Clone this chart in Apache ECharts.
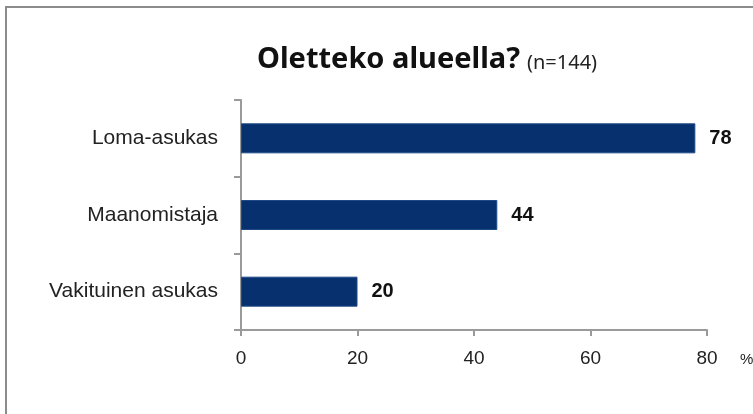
<!DOCTYPE html>
<html>
<head>
<meta charset="utf-8">
<script src="https://cdn.jsdelivr.net/npm/echarts@6/dist/echarts.min.js"></script>
<style>
  html, body { margin: 0; padding: 0; background: #fff; }
  #chart { width: 753px; height: 414px; }
</style>
</head>
<body>
<div id="chart"></div>
<script>
  // vastaukset, % (n=144)
  var categories = ['Vakituinen asukas', 'Maanomistaja', 'Loma-asukas'];
  var values = [20, 44, 78];
  var xTicks = [0, 20, 40, 60, 80];

  var myChart = echarts.init(document.getElementById('chart'));
  var font = 'Liberation Sans, Arial, sans-serif';

  var option = {
    animation: false,
    backgroundColor: '#fff',
    title: {
      left: 252,
      top: 40,
      text: '{b|Oletteko alueella?} {n|(n=144)}',
      textStyle: {
        rich: {
          b: { fontFamily: 'Noto Sans, sans-serif', fontWeight: 'bold', fontSize: 29, color: '#111' },
          n: { fontFamily: 'Noto Sans, sans-serif', fontWeight: 'normal', fontSize: 20, color: '#222', padding: [7, 0, 0, 2] }
        }
      }
    },
    graphic: [{
      type: 'rect',
      shape: { x: 6, y: 7, width: 800, height: 500 },
      style: { fill: 'none', stroke: '#8c8c8c', lineWidth: 2 },
      silent: true
    }, {
      type: 'text',
      left: 740,
      top: 352,
      style: { text: '%', fontFamily: font, fontSize: 15, fill: '#222' }
    }],
    grid: { left: 241, right: 46, top: 100, bottom: 84, containLabel: false },
    xAxis: {
      type: 'value',
      min: xTicks[0],
      max: xTicks[xTicks.length - 1],
      interval: 20,
      splitLine: { show: false },
      axisLine: { show: true, lineStyle: { color: '#9a9a9a', width: 2 } },
      axisTick: { show: true, length: 6, lineStyle: { color: '#9a9a9a', width: 2 } },
      axisLabel: { margin: 19, fontFamily: font, fontSize: 19, color: '#222' }
    },
    yAxis: {
      type: 'category',
      data: categories,
      axisLine: { show: true, lineStyle: { color: '#9a9a9a', width: 2 } },
      axisTick: { show: true, length: 7, lineStyle: { color: '#9a9a9a', width: 2 } },
      axisLabel: { margin: 23, fontFamily: font, fontSize: 21, color: '#222' }
    },
    series: [{
      type: 'bar',
      data: values,
      barWidth: 30,
      itemStyle: { color: '#06306e', borderColor: '#1f4a86', borderWidth: 1 },
      label: {
        show: true,
        position: 'right',
        distance: 14,
        fontFamily: font,
        fontWeight: 'bold',
        fontSize: 20,
        color: '#111'
      }
    }]
  };

  myChart.setOption(option, true);
</script>
</body>
</html>
